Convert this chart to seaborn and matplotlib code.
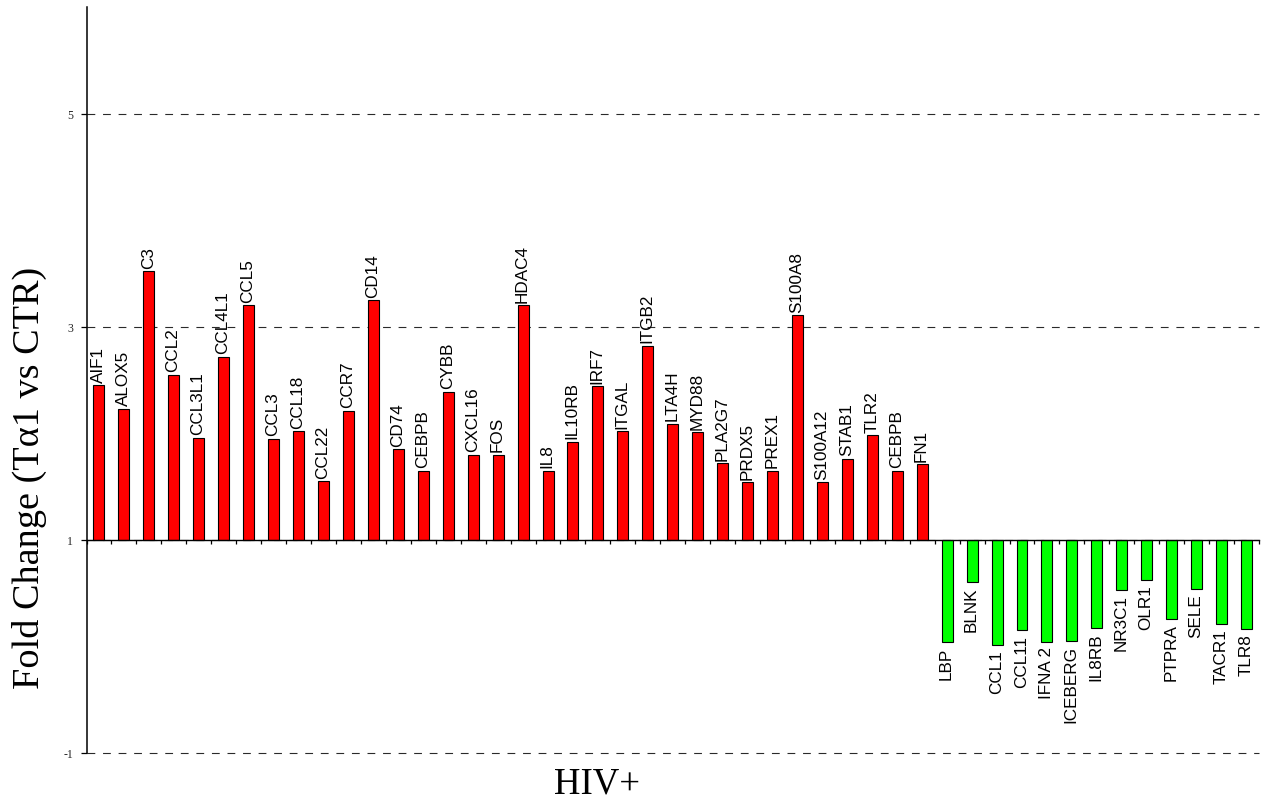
import numpy as np
import pandas as pd
import matplotlib
matplotlib.use("Agg")
import matplotlib.pyplot as plt
import seaborn as sns

# Genes up-regulated (fold change > 1) and down-regulated (< 1) in HIV+
up_genes = ["AIF1", "ALOX5", "C3", "CCL2", "CCL3L1", "CCL4L1", "CCL5", "CCL3",
            "CCL18", "CCL22", "CCR7", "CD14", "CD74", "CEBPB", "CYBB", "CXCL16",
            "FOS", "HDAC4", "IL8", "IL10RB", "IRF7", "ITGAL", "ITGB2", "LTA4H",
            "MYD88", "PLA2G7", "PRDX5", "PREX1", "S100A8", "S100A12", "STAB1",
            "TLR2", "CEBPB", "FN1"]
up_fold = [2.45, 2.23, 3.52, 2.55, 1.96, 2.72, 3.20, 1.95,
           2.02, 1.55, 2.21, 3.25, 1.85, 1.65, 2.39, 1.80,
           1.80, 3.20, 1.65, 1.92, 2.44, 2.02, 2.82, 2.09,
           2.01, 1.72, 1.54, 1.65, 3.11, 1.54, 1.76,
           1.98, 1.65, 1.71]

down_genes = ["LBP", "BLNK", "CCL1", "CCL11", "IFNA 2", "ICEBERG", "IL8RB",
              "NR3C1", "OLR1", "PTPRA", "SELE", "TACR1", "TLR8"]
down_fold = [0.04, 0.60, 0.01, 0.15, 0.04, 0.05, 0.17,
             0.53, 0.62, 0.26, 0.54, 0.21, 0.16]

y_ticks = [-1, 1, 3, 5]
baseline = 1.0

genes = up_genes + down_genes
fold = np.array(up_fold + down_fold)
df = pd.DataFrame({
    "pos": np.arange(len(genes)),
    "gene": genes,
    "fold": fold,
    "delta": fold - baseline,
    "direction": ["up"] * len(up_genes) + ["down"] * len(down_genes),
})

sns.set_theme(style="white")
plt.rcParams["font.family"] = ["Liberation Sans", "DejaVu Sans"]

fig = plt.figure(figsize=(12.69, 8.03), dpi=100)
ax = fig.add_axes([86.5 / 1269, 49 / 803, 1172.5 / 1269, 746 / 803])

sns.barplot(data=df, x="pos", y="delta", hue="direction",
            palette={"up": "#FF0000", "down": "#00FF00"},
            native_scale=True, dodge=False, legend=False, width=0.44,
            bottom=baseline, edgecolor="black", linewidth=0.8,
            saturation=1, ax=ax, zorder=3)

# Gene names written along each bar's end
for _, row in df.iterrows():
    up = row["fold"] >= baseline
    ax.annotate(row["gene"], xy=(row["pos"], row["fold"]),
                xytext=(-0.5, 2.5 if up else -3), textcoords="offset points",
                rotation=90, ha="center", va="bottom" if up else "top",
                fontsize=12.3, color="black", zorder=4)

n = len(genes)
ax.set_xlim(-0.5, n - 0.5)
ax.set_ylim(-1, 6)

# Axes: left spine plus a horizontal axis line at the fold-change baseline
for side in ("top", "right"):
    ax.spines[side].set_visible(False)
ax.spines["left"].set_color("black")
ax.spines["left"].set_linewidth(1.1)
ax.spines["bottom"].set_position(("data", baseline))
ax.spines["bottom"].set_color("black")
ax.spines["bottom"].set_linewidth(1.0)
ax.spines["bottom"].set_zorder(5)

ax.set_xticks(np.arange(n + 1) - 0.5)
ax.set_xticklabels([])
ax.tick_params(axis="x", direction="out", length=3.2, width=0.9,
               color="black", bottom=True)

ax.set_yticks(y_ticks)
ax.set_yticklabels([str(t) for t in y_ticks], family="Liberation Serif",
                   fontsize=8.5)
ax.tick_params(axis="y", direction="out", length=4, width=0.9,
               color="black", pad=5.5, left=True)

ax.grid(axis="y", color="#2a2a2a", linewidth=0.8, linestyle=(0, (7, 7)))
ax.grid(axis="x", visible=False)
ax.set_axisbelow(True)
for gl in ax.get_ygridlines():
    gl.set_clip_on(False)

ax.set_xlabel("HIV+", family="Liberation Serif", fontsize=26.5, color="black")
ax.xaxis.set_label_coords(0.435, -0.018)
ax.set_ylabel("Fold Change (T\u03b11 vs CTR)", family="Liberation Serif",
              fontsize=27.5, color="black")
ax.yaxis.set_label_coords(-0.034, 0.37)

fig.savefig("out.png", dpi=100)
